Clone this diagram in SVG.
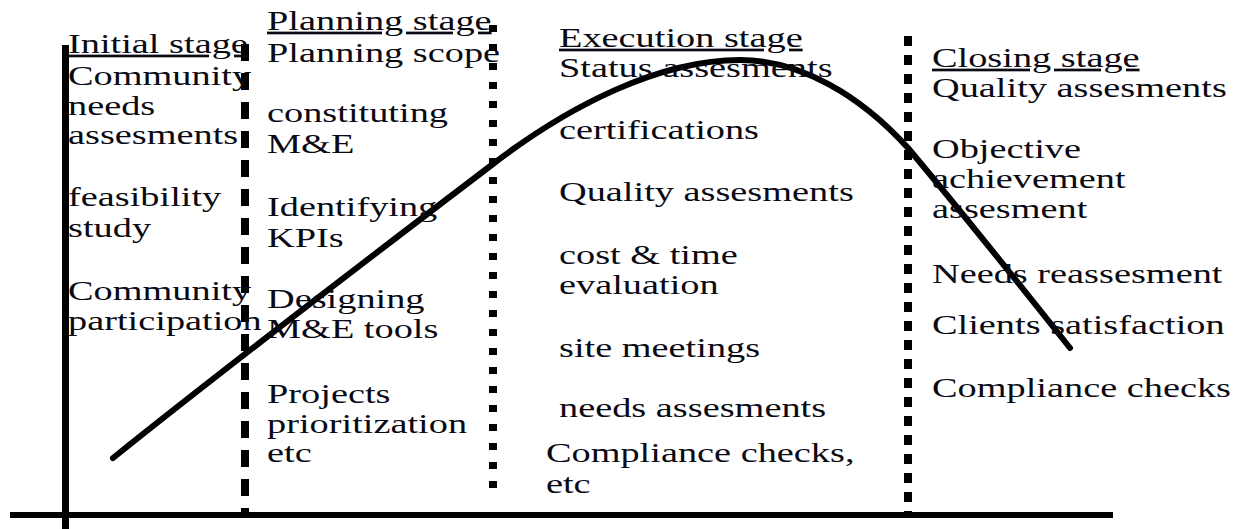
<svg xmlns="http://www.w3.org/2000/svg" width="1241" height="529" viewBox="0 0 1241 529">
  <style>
    .t { font-family: "Liberation Serif", "Times New Roman", serif; font-size: 27px; fill: #0a0a14; }
    .h { text-decoration: underline; }
    .solid { stroke: #000; fill: none; }
    .div { stroke: #000; fill: none; stroke-width: 8; }
  </style>
  <rect width="1241" height="529" fill="#fff"/>

  <!-- axes, stage dividers and life-cycle curve -->
  <g id="connectors">
    <line class="solid" x1="10" y1="515" x2="1113" y2="515" stroke-width="6"/>
    <line class="solid" x1="65.5" y1="45" x2="65.5" y2="529" stroke-width="7"/>
    <line class="div" x1="245" y1="44" x2="245" y2="518" stroke-dasharray="17 12"/>
    <line class="div" x1="493" y1="25" x2="493" y2="498" stroke-dasharray="7 12"/>
    <line class="div" x1="908" y1="36" x2="908" y2="512" stroke-dasharray="10 9"/>
    <path class="solid" stroke-width="6" stroke-linecap="round"
          d="M113,458 C240,356 380,250 493,164 C570,105 660,60 740,60 C800,60 860,95 908,148 C960,210 1020,285 1070,348"/>
  </g>

  <g id="initial-stage" transform="translate(68 0) scale(1.42 1)">
    <text class="t h" x="0" y="53">Initial stage</text>
    <text class="t" x="0" y="85">Community</text>
    <text class="t" x="0" y="115">needs</text>
    <text class="t" x="0" y="144">assesments</text>
    <text class="t" x="0" y="206">feasibility</text>
    <text class="t" x="0" y="237">study</text>
    <text class="t" x="0" y="300">Community</text>
    <text class="t" x="0" y="330">participation</text>
  </g>

  <g id="planning-stage" transform="translate(267 0) scale(1.42 1)">
    <text class="t h" x="0" y="30">Planning stage</text>
    <text class="t" x="0" y="62">Planning scope</text>
    <text class="t" x="0" y="122">constituting</text>
    <text class="t" x="0" y="153">M&amp;E</text>
    <text class="t" x="0" y="216">Identifying</text>
    <text class="t" x="0" y="247">KPIs</text>
    <text class="t" x="0" y="308">Designing</text>
    <text class="t" x="0" y="338">M&amp;E tools</text>
    <text class="t" x="0" y="403">Projects</text>
    <text class="t" x="0" y="433">prioritization</text>
    <text class="t" x="0" y="462">etc</text>
  </g>

  <g id="execution-stage" transform="translate(559 0) scale(1.42 1)">
    <text class="t h" x="0" y="47">Execution stage</text>
    <text class="t" x="0" y="77">Status assesments</text>
    <text class="t" x="0" y="139">certifications</text>
    <text class="t" x="0" y="201">Quality assesments</text>
    <text class="t" x="0" y="264">cost &amp; time</text>
    <text class="t" x="0" y="294">evaluation</text>
    <text class="t" x="0" y="357">site meetings</text>
    <text class="t" x="0" y="417">needs assesments</text>
    <text class="t" x="-9.2" y="462">Compliance checks,</text>
    <text class="t" x="-9.2" y="493">etc</text>
  </g>

  <g id="closing-stage" transform="translate(932 0) scale(1.42 1)">
    <text class="t h" x="0" y="67">Closing stage</text>
    <text class="t" x="0" y="97">Quality assesments</text>
    <text class="t" x="0" y="158">Objective</text>
    <text class="t" x="0" y="188">achievement</text>
    <text class="t" x="0" y="218">assesment</text>
    <text class="t" x="0" y="283">Needs reassesment</text>
    <text class="t" x="0" y="334">Clients satisfaction</text>
    <text class="t" x="0" y="397">Compliance checks</text>
  </g>
</svg>
